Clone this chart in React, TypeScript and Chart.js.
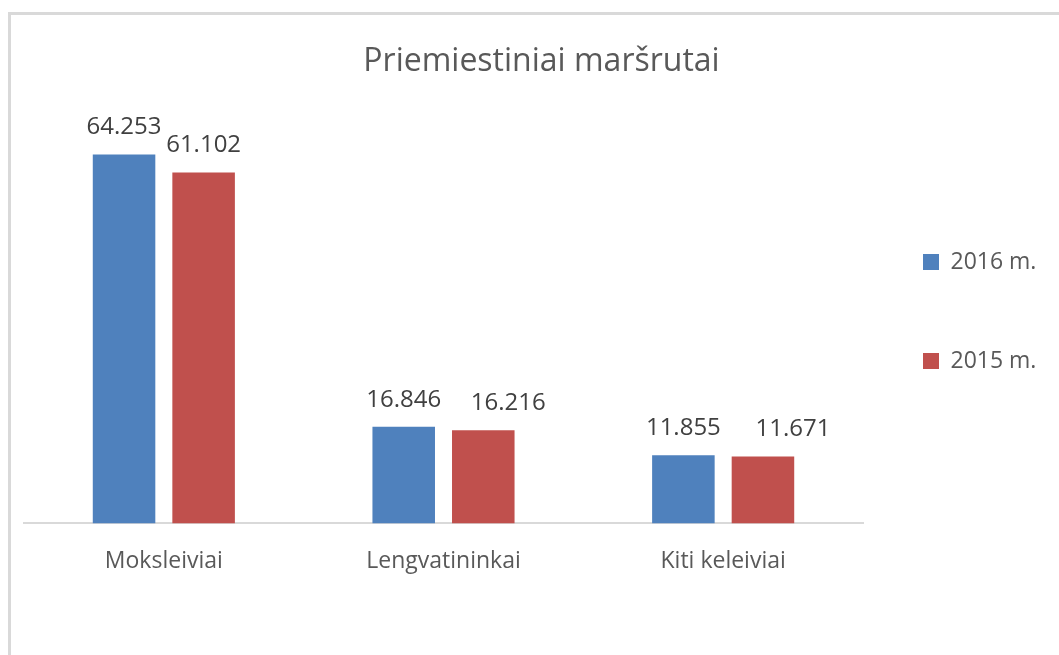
import React, { useEffect, useRef } from "react";
import { Chart, registerables } from "chart.js";

Chart.register(...registerables);

const categories = ["Moksleiviai", "Lengvatininkai", "Kiti keleiviai"];
const seriesNames = ["2016 m.", "2015 m."];
const values2016 = [64.253, 16.846, 11.855];
const values2015 = [61.102, 16.216, 11.671];
const valueLabels2016 = ["64.253", "16.846", "11.855"];
const valueLabels2015 = ["61.102", "16.216", "11.671"];
const colors = ["#4F81BD", "#C0504D"];

// manual horizontal nudges of the value labels (as placed in the original)
const labelNudgeX = [
  [0, 0, 0],
  [0, 25, 30],
];

const FONT = "'Open Sans', 'DejaVu Sans', sans-serif";

const dataLabelPlugin = {
  id: "dataLabels",
  afterDatasetsDraw(chart: any) {
    const ctx = chart.ctx;
    const labelSets = [valueLabels2016, valueLabels2015];
    ctx.save();
    ctx.font = `24px ${FONT}`;
    ctx.fillStyle = "#404040";
    ctx.textAlign = "center";
    ctx.textBaseline = "alphabetic";
    chart.data.datasets.forEach((_: any, di: number) => {
      const meta = chart.getDatasetMeta(di);
      meta.data.forEach((bar: any, i: number) => {
        ctx.fillText(labelSets[di][i], bar.x + labelNudgeX[di][i], bar.y - 20);
      });
    });
    ctx.restore();
  },
};

const legendShiftPlugin = {
  id: "legendShift",
  afterLayout(chart: any) {
    const lg = chart.legend;
    if (!lg) return;
    const dx = 16;
    const dy = 12;
    lg.left -= dx;
    lg.right -= dx;
    lg.top += dy;
    lg.bottom += dy;
  },
};

export default function App() {
  const ref = useRef<HTMLCanvasElement | null>(null);
  useEffect(() => {
    if (!ref.current) return;
    const chart = new Chart(ref.current, {
      type: "bar",
      data: {
        labels: categories,
        datasets: [
          {
            label: seriesNames[0],
            data: values2016,
            backgroundColor: colors[0],
            borderWidth: 0,
            categoryPercentage: 0.569,
            barPercentage: 0.786,
          },
          {
            label: seriesNames[1],
            data: values2015,
            backgroundColor: colors[1],
            borderWidth: 0,
            categoryPercentage: 0.569,
            barPercentage: 0.786,
          },
        ],
      },
      options: {
        animation: false,
        responsive: false,
        maintainAspectRatio: false,
        layout: { padding: { left: 24, right: 0, top: 0, bottom: 56 } },
        scales: {
          x: {
            grid: { display: false, drawTicks: false },
            border: { display: true, color: "#d9d9d9", width: 2 },
            ticks: {
              color: "#595959",
              font: { family: FONT, size: 23 },
              padding: 24,
              maxRotation: 0,
            },
          },
          y: {
            display: false,
            min: 0,
            max: 70,
          },
        },
        plugins: {
          title: {
            display: true,
            text: "Priemiestiniai maršrutai",
            color: "#595959",
            font: { family: FONT, size: 32, weight: "normal" },
            padding: { top: 43, bottom: 40 },
          },
          legend: {
            display: true,
            position: "right",
            maxWidth: 196,
            labels: {
              color: "#595959",
              font: { family: FONT, size: 23 },
              boxWidth: 16,
              boxHeight: 16,
              padding: 76,
            },
          },
          tooltip: { enabled: false },
        },
      },
      plugins: [dataLabelPlugin, legendShiftPlugin],
    });
    return () => chart.destroy();
  }, []);

  return (
    <div
      style={{
        position: "absolute",
        left: 0,
        top: 0,
        width: 1059,
        height: 655,
        overflow: "hidden",
        background: "#ffffff",
      }}
    >
      <div
        style={{
          position: "absolute",
          left: 8,
          top: 12,
          width: 1200,
          height: 800,
          border: "3px solid #d9d9d9",
          boxSizing: "border-box",
        }}
      />
      <canvas
        ref={ref}
        width={1059}
        height={655}
        style={{ position: "absolute", left: 0, top: 0, width: 1059, height: 655 }}
      />
    </div>
  );
}
